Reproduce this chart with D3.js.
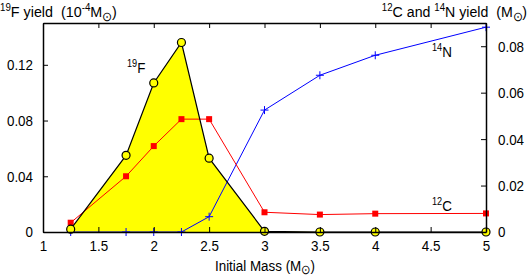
<!DOCTYPE html>
<html>
<head>
<meta charset="utf-8">
<style>
	body { margin: 0; background: #fff; }
	svg { display: block; font-family: "Liberation Sans", Arial, sans-serif; }
	text { fill: #000; white-space: pre; }
</style>
<script src="https://cdnjs.cloudflare.com/ajax/libs/d3/7.8.5/d3.min.js"></script>
</head>
<body>
<svg id="chart" width="529" height="277"></svg>
<script>
// initial masses (Msun)
let masses = [1.25, 1.75, 2, 2.25, 2.5, 3, 3.5, 4, 5];
// 19F yield, 10^-4 Msun (left axis)
let f19 = [0.002, 0.055, 0.107, 0.136, 0.053, 0.0005, 0, 0, 0];
// 12C and 14N yield, Msun (right axis)
let c12 = [0.004, 0.024, 0.037, 0.0486, 0.0486, 0.0085, 0.0075, 0.0079, 0.008];
let n14 = [0, 0, 0, 0, 0.0066, 0.0525, 0.0675, 0.0761, 0.0882];

let xTicks = [1, 1.5, 2, 2.5, 3, 3.5, 4, 4.5, 5];
let leftTicks = [0, 0.04, 0.08, 0.12];
let rightTicks = [0, 0.02, 0.04, 0.06, 0.08];

let svg = d3.select("#chart");
let pLeft = 43, pRight = 486, pTop = 23, pBottom = 232;
// the original's text is a little narrow for its height
let sx = 0.87, fs = 15.4;

let x = d3.scaleLinear().domain([1, 5]).range([pLeft, pRight]);
let yL = d3.scaleLinear().domain([0, 0.15]).range([pBottom, pTop]);
let yR = d3.scaleLinear().domain([0, 0.09]).range([pBottom, pTop]);

let fData = masses.map((m, i) => ({m: m, v: f19[i]}));
let cData = masses.map((m, i) => ({m: m, v: c12[i]}));
let nData = masses.map((m, i) => ({m: m, v: n14[i]}));

// yellow area under 19F
svg.append("path")
	.datum(fData)
	.attr("fill", "#ffff00")
	.attr("d", d3.area().x(d => x(d.m)).y0(yL(0)).y1(d => yL(d.v)));

// 14N line
svg.append("path")
	.datum(nData)
	.attr("fill", "none").attr("stroke", "#0000ff").attr("stroke-width", 1)
	.attr("d", d3.line().x(d => x(d.m)).y(d => yR(d.v)));
svg.selectAll(".plus").data(nData).join("path")
	.attr("class", "plus")
	.attr("stroke", "#0000ff").attr("stroke-width", 1)
	.attr("d", d => {
		let px = x(d.m), py = yR(d.v);
		return `M${px-4},${py}H${px+4}M${px},${py-4}V${py+4}`;
	});

// 12C line
svg.append("path")
	.datum(cData)
	.attr("fill", "none").attr("stroke", "#ff0000").attr("stroke-width", 1)
	.attr("d", d3.line().x(d => x(d.m)).y(d => yR(d.v)));
svg.selectAll(".sq").data(cData).join("rect")
	.attr("class", "sq")
	.attr("fill", "#ff0000")
	.attr("x", d => x(d.m) - 3).attr("y", d => yR(d.v) - 3)
	.attr("width", 6).attr("height", 6);

// 19F line + circles
svg.append("path")
	.datum(fData)
	.attr("fill", "none").attr("stroke", "#000").attr("stroke-width", 1.2)
	.attr("d", d3.line().x(d => x(d.m)).y(d => yL(d.v)));
svg.selectAll(".circ").data(fData).join("circle")
	.attr("class", "circ")
	.attr("fill", "#ffff00").attr("stroke", "#000").attr("stroke-width", 1.2)
	.attr("cx", d => x(d.m)).attr("cy", d => yL(d.v)).attr("r", 4);

// axes
let yFmt = d => d === 0 ? "0" : d3.format(".2f")(d);
let gB = svg.append("g").attr("transform", `translate(0,${pBottom})`)
	.call(d3.axisBottom(x).tickValues(xTicks).tickSizeInner(-5).tickSizeOuter(0).tickPadding(8).tickFormat(d3.format("")));
let gT = svg.append("g").attr("transform", `translate(0,${pTop})`)
	.call(d3.axisTop(x).tickValues(xTicks).tickSizeInner(-5).tickSizeOuter(0).tickFormat(""));
let gL = svg.append("g").attr("transform", `translate(${pLeft},0)`)
	.call(d3.axisLeft(yL).tickValues(leftTicks).tickSizeInner(-5).tickSizeOuter(0).tickPadding(10).tickFormat(yFmt));
let gR = svg.append("g").attr("transform", `translate(${pRight},0)`)
	.call(d3.axisRight(yR).tickValues(rightTicks).tickSizeInner(-5).tickSizeOuter(0).tickPadding(12).tickFormat(yFmt));
[gB, gT, gL, gR].forEach(g => {
	g.select(".domain").attr("stroke", "#000").attr("stroke-width", 1.5);
	g.selectAll(".tick line").attr("stroke", "#000");
	g.selectAll(".tick text").each(function() {
		let t = d3.select(this);
		let tx = +t.attr("x") || 0, ty = +t.attr("y") || 0;
		t.attr("x", null).attr("y", null)
			.attr("transform", `translate(${tx},${ty}) scale(${sx},1)`)
			.attr("font-size", fs).attr("font-family", "Liberation Sans, Arial, sans-serif").attr("fill", "#000");
	});
});

// labels with superscripts / sun subscripts
function label(xp, yp, parts, anchor, scale) {
	let t = svg.append("text")
		.attr("transform", `translate(${xp},${yp}) scale(${scale || sx},1)`)
		.attr("font-size", fs).attr("text-anchor", anchor || "start");
	parts.forEach(p => {
		let s = t.append("tspan").text(p[0]);
		if (p[1] === "sup") s.attr("font-size", 10.5).attr("dy", -6.5);
		else if (p[1] === "sub") s.attr("font-size", 12.5).attr("dy", p[2] || 4);
		else if (p[1] === "back") s.attr("dy", p[2]);
	});
	return t;
}

label(0, 17, [["19", "sup"], ["F yield  (10", "back", 6.5], ["-4", "sup"], ["M", "back", 6.5], ["\u2299", "sub"], [")", "back", -4]], "start", 0.93);
label(527, 17, [["12", "sup"], ["C and ", "back", 6.5], ["14", "sup"], ["N yield  (M", "back", 6.5], ["\u2299", "sub"], [")", "back", -4]], "end", 0.92);
label(265, 271, [["Initial Mass (M"], ["\u2299", "sub", 2.5], [")", "back", -2.5]], "middle");
label(127, 73, [["19", "sup"], ["F", "back", 6.5]], "start");
label(432, 57, [["14", "sup"], ["N", "back", 6.5]], "start");
label(432, 211, [["12", "sup"], ["C", "back", 6.5]], "start");
</script>
</body>
</html>
